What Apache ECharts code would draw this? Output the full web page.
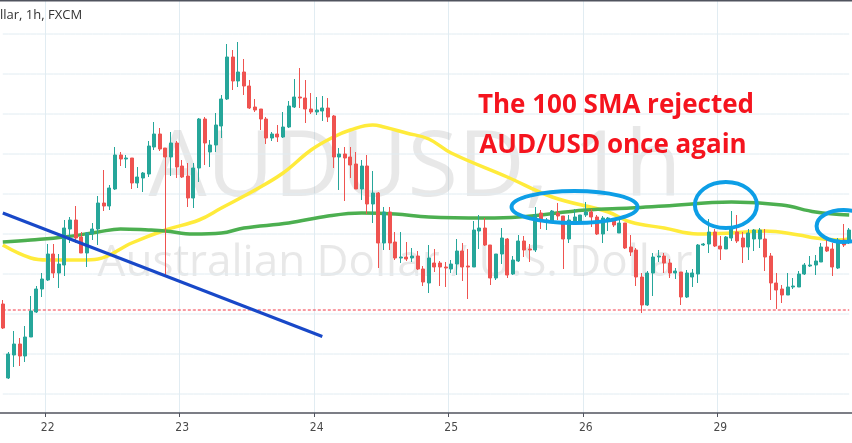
<!DOCTYPE html>
<html><head><meta charset="utf-8">
<script src="https://cdn.jsdelivr.net/npm/echarts@6/dist/echarts.min.js"></script>
<style>html,body{margin:0;padding:0;background:#fff}#c{width:852px;height:443px}</style>
</head><body><div id="c"></div>
<script>
// Prices in units of 0.00001 (AUD/USD hourly, FXCM)
const openP = [69780,69632,69678,69700,69676,69714,69764,69810,69828,69880,69842,69858,69930,69948,69914,69882,69920,69930,69982,69976,70010,70078,70070,70072,70022,70032,70040,70094,70120,70092,70074,70102,70056,70036,69992,70052,70150,70084,70098,70136,70190,70274,70226,70244,70216,70174,70170,70150,70112,70120,70114,70134,70174,70194,70192,70170,70164,70166,70172,70156,70074,70080,70074,70060,70010,70056,69980,70002,69902,69964,69904,69872,69874,69872,69876,69850,69822,69862,69862,69854,69850,69860,69886,69856,69854,69926,69932,69898,69832,69880,69910,69840,69866,69906,69890,69888,69962,69944,69946,69962,69956,69910,69946,69942,69958,69964,69954,69920,69948,69950,69922,69942,69894,69888,69834,69778,69842,69874,69876,69862,69842,69844,69794,69834,69840,69898,69900,69924,69896,69890,69912,69924,69912,69894,69910,69910,69910,69876,69822,69810,69798,69814,69814,69840,69856,69858,69864,69894,69890,69852,69908,69904];
const closeP = [69732,69680,69700,69676,69714,69766,69810,69830,69880,69842,69860,69932,69948,69912,69882,69922,69930,69982,69976,70012,70078,70070,70072,70022,70034,70042,70096,70120,70090,70074,70102,70054,70034,69992,70052,70150,70102,70098,70138,70190,70274,70226,70244,70216,70172,70168,70150,70112,70120,70114,70134,70176,70194,70192,70170,70164,70168,70172,70154,70074,70080,70072,70058,70010,70056,69980,70002,69902,69964,69902,69872,69874,69870,69876,69850,69824,69872,69854,69854,69852,69860,69886,69854,69854,69928,69932,69898,69832,69880,69912,69838,69868,69906,69888,69888,69958,69946,69948,69966,69956,69910,69948,69954,69958,69964,69954,69920,69952,69952,69938,69942,69892,69884,69834,69778,69842,69874,69876,69862,69842,69846,69794,69842,69842,69898,69900,69924,69896,69890,69914,69934,69906,69894,69922,69928,69928,69874,69822,69808,69798,69814,69816,69840,69858,69858,69866,69894,69886,69854,69908,69898,69928];
const lowP = [69730,69630,69654,69656,69664,69714,69762,69794,69826,69832,69812,69836,69902,69902,69882,69854,69908,69898,69966,69968,70008,70056,70052,70010,70012,70004,70034,70088,70086,69834,70036,70032,70032,69974,69972,70024,70058,70054,70084,70112,70188,70208,70214,70198,70170,70164,70128,70100,70106,70104,70112,70132,70172,70172,70142,70160,70158,70146,70144,70052,70008,69986,70032,70010,69988,69960,69942,69852,69888,69888,69868,69862,69866,69864,69848,69816,69802,69844,69816,69814,69842,69838,69826,69790,69854,69890,69896,69818,69828,69860,69832,69838,69864,69874,69864,69884,69930,69928,69944,69948,69850,69902,69942,69940,69954,69934,69918,69902,69926,69934,69922,69890,69876,69816,69762,69776,69796,69864,69842,69832,69830,69778,69792,69814,69822,69896,69882,69894,69868,69890,69906,69902,69862,69868,69886,69892,69846,69788,69770,69782,69798,69810,69814,69838,69854,69838,69864,69884,69836,69850,69894,69900];
const highP = [69788,69684,69726,69712,69736,69796,69816,69842,69900,69900,69880,69948,69954,69976,69924,69924,69942,69996,70048,70018,70094,70084,70078,70072,70054,70044,70106,70144,70132,70092,70124,70106,70068,70062,70062,70152,70154,70108,70162,70198,70300,70288,70304,70270,70228,70190,70170,70154,70124,70138,70164,70186,70230,70252,70228,70202,70194,70196,70192,70158,70092,70094,70094,70084,70068,70078,70046,70004,69974,69974,69924,69924,69904,69892,69886,69856,69898,69890,69866,69864,69868,69910,69902,69890,69946,69958,69952,69898,69880,69932,69912,69876,69918,69916,69900,69974,69968,69952,69968,69982,69956,69958,69970,69958,69984,69970,69958,69956,69954,69952,69948,69942,69918,69892,69842,69846,69882,69888,69882,69870,69852,69844,69848,69850,69900,69902,69950,69930,69916,69916,69966,69958,69924,69930,69930,69932,69930,69882,69842,69818,69842,69832,69846,69862,69876,69878,69902,69908,69902,69912,69940,69932];
// Moving averages read at sampled candles: [candle index, price]
const sma50 = [[0,69898],[5,69872],[8,69868],[14,69868],[17,69870],[23,69902],[29,69928],[35,69948],[39,69972],[45,70008],[50,70042],[55,70088],[59,70114],[62,70128],[66,70138],[68,70134],[72,70122],[76,70110],[80,70082],[90,70034],[98,69994],[108,69964],[112,69944],[118,69932],[124,69920],[130,69922],[136,69926],[142,69918],[145,69912],[149,69908],[151,69910]];
const sma100 = [[0,69904],[5,69908],[11,69914],[17,69924],[21,69930],[26,69928],[29,69926],[34,69920],[39,69922],[43,69932],[51,69942],[58,69956],[64,69962],[70,69960],[76,69954],[86,69952],[92,69954],[104,69968],[112,69972],[118,69976],[130,69984],[139,69978],[145,69964],[151,69958]];
const trendLine = [[0,69962],[57,69715]];
const supportLevel = 69768;
const gridLevels = [69600,69680,69760,69840,69920,70000,70080,70160,70240,70320];
const dayLabels = ['22','23','24','25','26','29'];
const firstDayIndex = 8, candlesPerDay = 24;
const ellipses = [[102.4,69974,63,16],[129.4,69978,31,23],[150,69936,27,16]];

const S = 100000;
const n = openP.length;
const cats = [];
for (let i = 0; i < n; i++) {
  const k = i - firstDayIndex;
  cats.push(k >= 0 && k % candlesPerDay === 0 ? (dayLabels[k / candlesPerDay] || '') : 'h' + i);
}
const candles = openP.map((o, i) => [o / S, closeP[i] / S, lowP[i] / S, highP[i] / S]);
function sparse(pts) { const a = new Array(n).fill(null); pts.forEach(p => a[p[0]] = p[1] / S); return a; }
const level = (v) => new Array(n).fill(v / S);
const isDay = (i) => { const k = i - firstDayIndex; return k >= 0 && k % candlesPerDay === 0; };

const gridSeries = gridLevels.map(v => ({type: 'line', data: level(v), silent: true, showSymbol: false,
  lineStyle: {color: '#e1ecf2', width: 1}, z: 0}));

const chart = echarts.init(document.getElementById('c'), null, {renderer: 'canvas'});
chart.setOption({
  animation: false,
  backgroundColor: '#ffffff',
  grid: {left: 0, right: 0, top: 0, bottom: 30},
  xAxis: {
    type: 'category', data: cats, boundaryGap: ['0.5%', '0.5%'],
    axisLine: {lineStyle: {color: '#50535e', width: 1.5}},
    axisTick: {show: true, interval: (i) => isDay(i), length: 4, lineStyle: {color: '#50535e'}},
    axisLabel: {interval: (i) => isDay(i), color: '#4a4a4a', fontSize: 12, fontFamily: 'Liberation Sans Narrow, DejaVu Sans Condensed, sans-serif', margin: 9},
    splitLine: {show: true, interval: (i) => isDay(i), lineStyle: {color: '#e1ecf2', width: 1}}
  },
  yAxis: {
    type: 'value', min: 0.69562, max: 0.70388, show: false, splitLine: {show: false}
  },
  series: gridSeries.concat([
    {type: 'candlestick', data: candles, barWidth: 3.5,
     itemStyle: {color: '#26a69a', color0: '#ef5350', borderColor: '#26a69a', borderColor0: '#ef5350', borderWidth: 1},
     z: 3},
    {type: 'line', data: level(supportLevel), silent: true, showSymbol: false, lineStyle: {color: '#f23645', type: [3, 2], width: 1}, z: 3},
    {type: 'line', data: sparse(sma50), connectNulls: true, smooth: 0.4, showSymbol: false, lineStyle: {color: '#ffeb3b', width: 3.5}, z: 2},
    {type: 'line', data: sparse(sma100), connectNulls: true, smooth: 0.4, showSymbol: false, lineStyle: {color: '#4caf50', width: 3.5}, z: 2},
    {type: 'line', data: sparse(trendLine), connectNulls: true, showSymbol: false, lineStyle: {color: '#1848c8', width: 3}, z: 4}
  ])
});

const g = [
  {type: 'rect', shape: {x: 0, y: 0, width: 852, height: 1.5}, style: {fill: '#50535e'}, z: 10},
  {type: 'text', left: 0, top: 9, style: {text: 'llar, 1h, FXCM', fill: '#333', font: '13px "Open Sans", sans-serif'}, z: 10},
  {type: 'text', x: 415, y: 170, style: {text: 'AUDUSD, 1h', fill: 'rgba(150,150,150,0.22)', font: '92px "Open Sans", sans-serif', textAlign: 'center', textVerticalAlign: 'middle'}, z: 0},
  {type: 'text', x: 395, y: 263, style: {text: 'Australian Dollar / U.S. Dollar', fill: 'rgba(150,150,150,0.22)', font: '44px "Open Sans", sans-serif', textAlign: 'center', textVerticalAlign: 'middle'}, z: 0},
  {type: 'text', x: 616, y: 106, style: {text: 'The 100 SMA rejected', fill: '#f5141e', font: 'bold 26px "Open Sans", sans-serif', textAlign: 'center', textVerticalAlign: 'middle'}, z: 10},
  {type: 'text', x: 613, y: 146, style: {text: 'AUD/USD once again', fill: '#f5141e', font: 'bold 26px "Open Sans", sans-serif', textAlign: 'center', textVerticalAlign: 'middle'}, z: 10}
];
ellipses.forEach(e => {
  const p = chart.convertToPixel({xAxisIndex: 0, yAxisIndex: 0}, [e[0], e[1] / S]);
  g.push({type: 'ellipse', shape: {cx: p[0], cy: p[1], rx: e[2], ry: e[3]}, style: {fill: null, stroke: '#0d9ee6', lineWidth: 4}, z: 10});
});
chart.setOption({graphic: g});
</script></body></html>
